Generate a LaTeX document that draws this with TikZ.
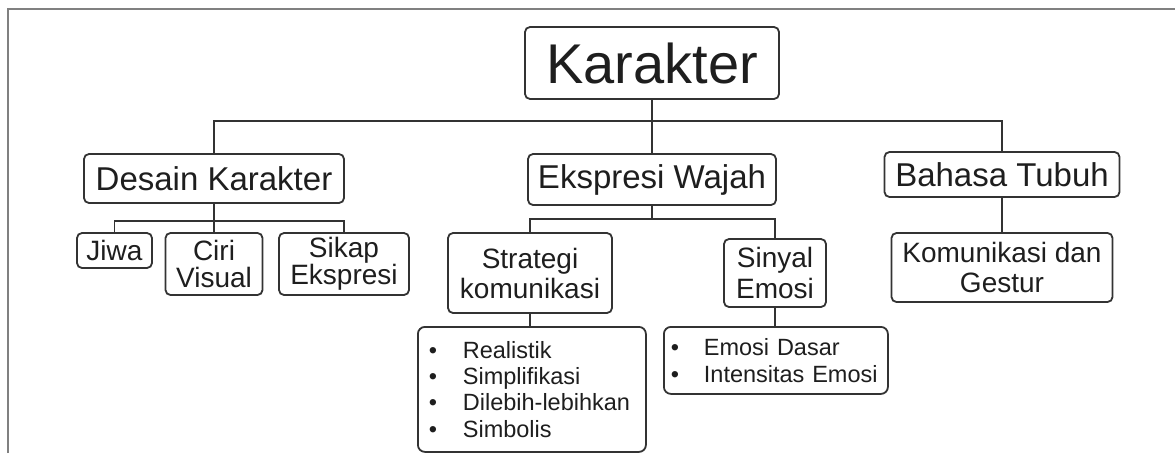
\documentclass[tikz,border=0pt]{standalone}
\usepackage{fontspec}
\setmainfont{Liberation Sans}
\newcommand\fsz[2]{\fontsize{#1}{#2}\selectfont}
\definecolor{linec}{HTML}{333333}
\definecolor{txt}{HTML}{1E1E1E}
\definecolor{framec}{HTML}{808080}
\begin{document}
\begin{tikzpicture}[x=1pt,y=-1pt,
  box/.style={draw=linec, line width=1.8pt, rounded corners=5pt, inner sep=0pt, align=center, text=txt},
  listbox/.style={draw=linec, line width=1.8pt, rounded corners=7pt, inner ysep=0pt, align=left, text=txt, anchor=north west},
  conn/.style={draw=linec, line width=1.8pt}]
\useasboundingbox (0,0) rectangle (1175,453);
\draw[framec, line width=2pt] (8,453) -- (8,9) -- (1175,9);
% level 0
\node[box, minimum width=254pt, minimum height=72pt, font=\fsz{56}{60}] (kar) at (652,63) {Karakter};
% level 1
\node[box, minimum width=260pt, minimum height=49pt, font=\fsz{33}{36}] (desain) at (214,178.5) {Desain Karakter};
\node[box, minimum width=248pt, minimum height=51pt, font=\fsz{33}{36}] (ekspresi) at (652,179.5) {Ekspresi Wajah};
\node[box, minimum width=235pt, minimum height=45pt, font=\fsz{33}{36}] (bahasa) at (1002,174.5) {Bahasa Tubuh};
% level 2
\node[box, minimum width=75pt, minimum height=35pt, font=\fsz{28}{27}] (jiwa) at (114.5,250.5) {Jiwa};
\node[box, minimum width=97pt, minimum height=62pt, font=\fsz{28}{27}] (ciri) at (214,264) {Ciri\\Visual};
\node[box, minimum width=130pt, minimum height=62pt, font=\fsz{28}{27}] (sikap) at (344,264) {Sikap\\Ekspresi};
\node[box, minimum width=164pt, minimum height=80pt, font=\fsz{28}{30}] (strategi) at (530,273) {Strategi\\komunikasi};
\node[box, minimum width=102pt, minimum height=68pt, font=\fsz{28}{31}] (sinyal) at (775,273) {Sinyal\\Emosi};
\node[box, minimum width=221pt, minimum height=69pt, font=\fsz{28}{30}] (komunikasi) at (1002,267.5) {Komunikasi dan\\Gestur};
% lists
\node[listbox, inner xsep=11pt, text width=206pt, minimum height=125pt, font=\fsz{23.5}{26.3}] (list1) at (417,326)
  {\makebox[34pt][l]{\textbullet}Realistik\\
   \makebox[34pt][l]{\textbullet}Simplifikasi\\
   \makebox[34pt][l]{\textbullet}Dilebih-lebihkan\\
   \makebox[34pt][l]{\textbullet}Simbolis};
\node[listbox, inner xsep=7pt, text width=210pt, minimum height=67pt, font=\fsz{23.5}{27}] (list2) at (663,326)
  {\makebox[33pt][l]{\textbullet}Emosi Dasar\\
   \makebox[33pt][l]{\textbullet}Intensitas Emosi};
% connectors
\draw[conn] (kar.south) -- (ekspresi.north);
\draw[conn] (kar.south) ++(0,21) -| (desain.north);
\draw[conn] (kar.south) ++(0,21) -| (bahasa.north);
\draw[conn] (desain.south) -- (ciri.north);
\draw[conn] (desain.south) ++(0,17) -| (jiwa.north);
\draw[conn] (desain.south) ++(0,17) -| (sikap.north);
\draw[conn] (ekspresi.south) ++(0,13) -| (strategi.north);
\draw[conn] (ekspresi.south) ++(0,13) -| (sinyal.north);
\draw[conn] (ekspresi.south) -- ++(0,13);
\draw[conn] (strategi.south) -- (strategi.south |- list1.north);
\draw[conn] (sinyal.south) -- (sinyal.south |- list2.north);
\draw[conn] (bahasa.south) -- (komunikasi.north);
\end{tikzpicture}
\end{document}
